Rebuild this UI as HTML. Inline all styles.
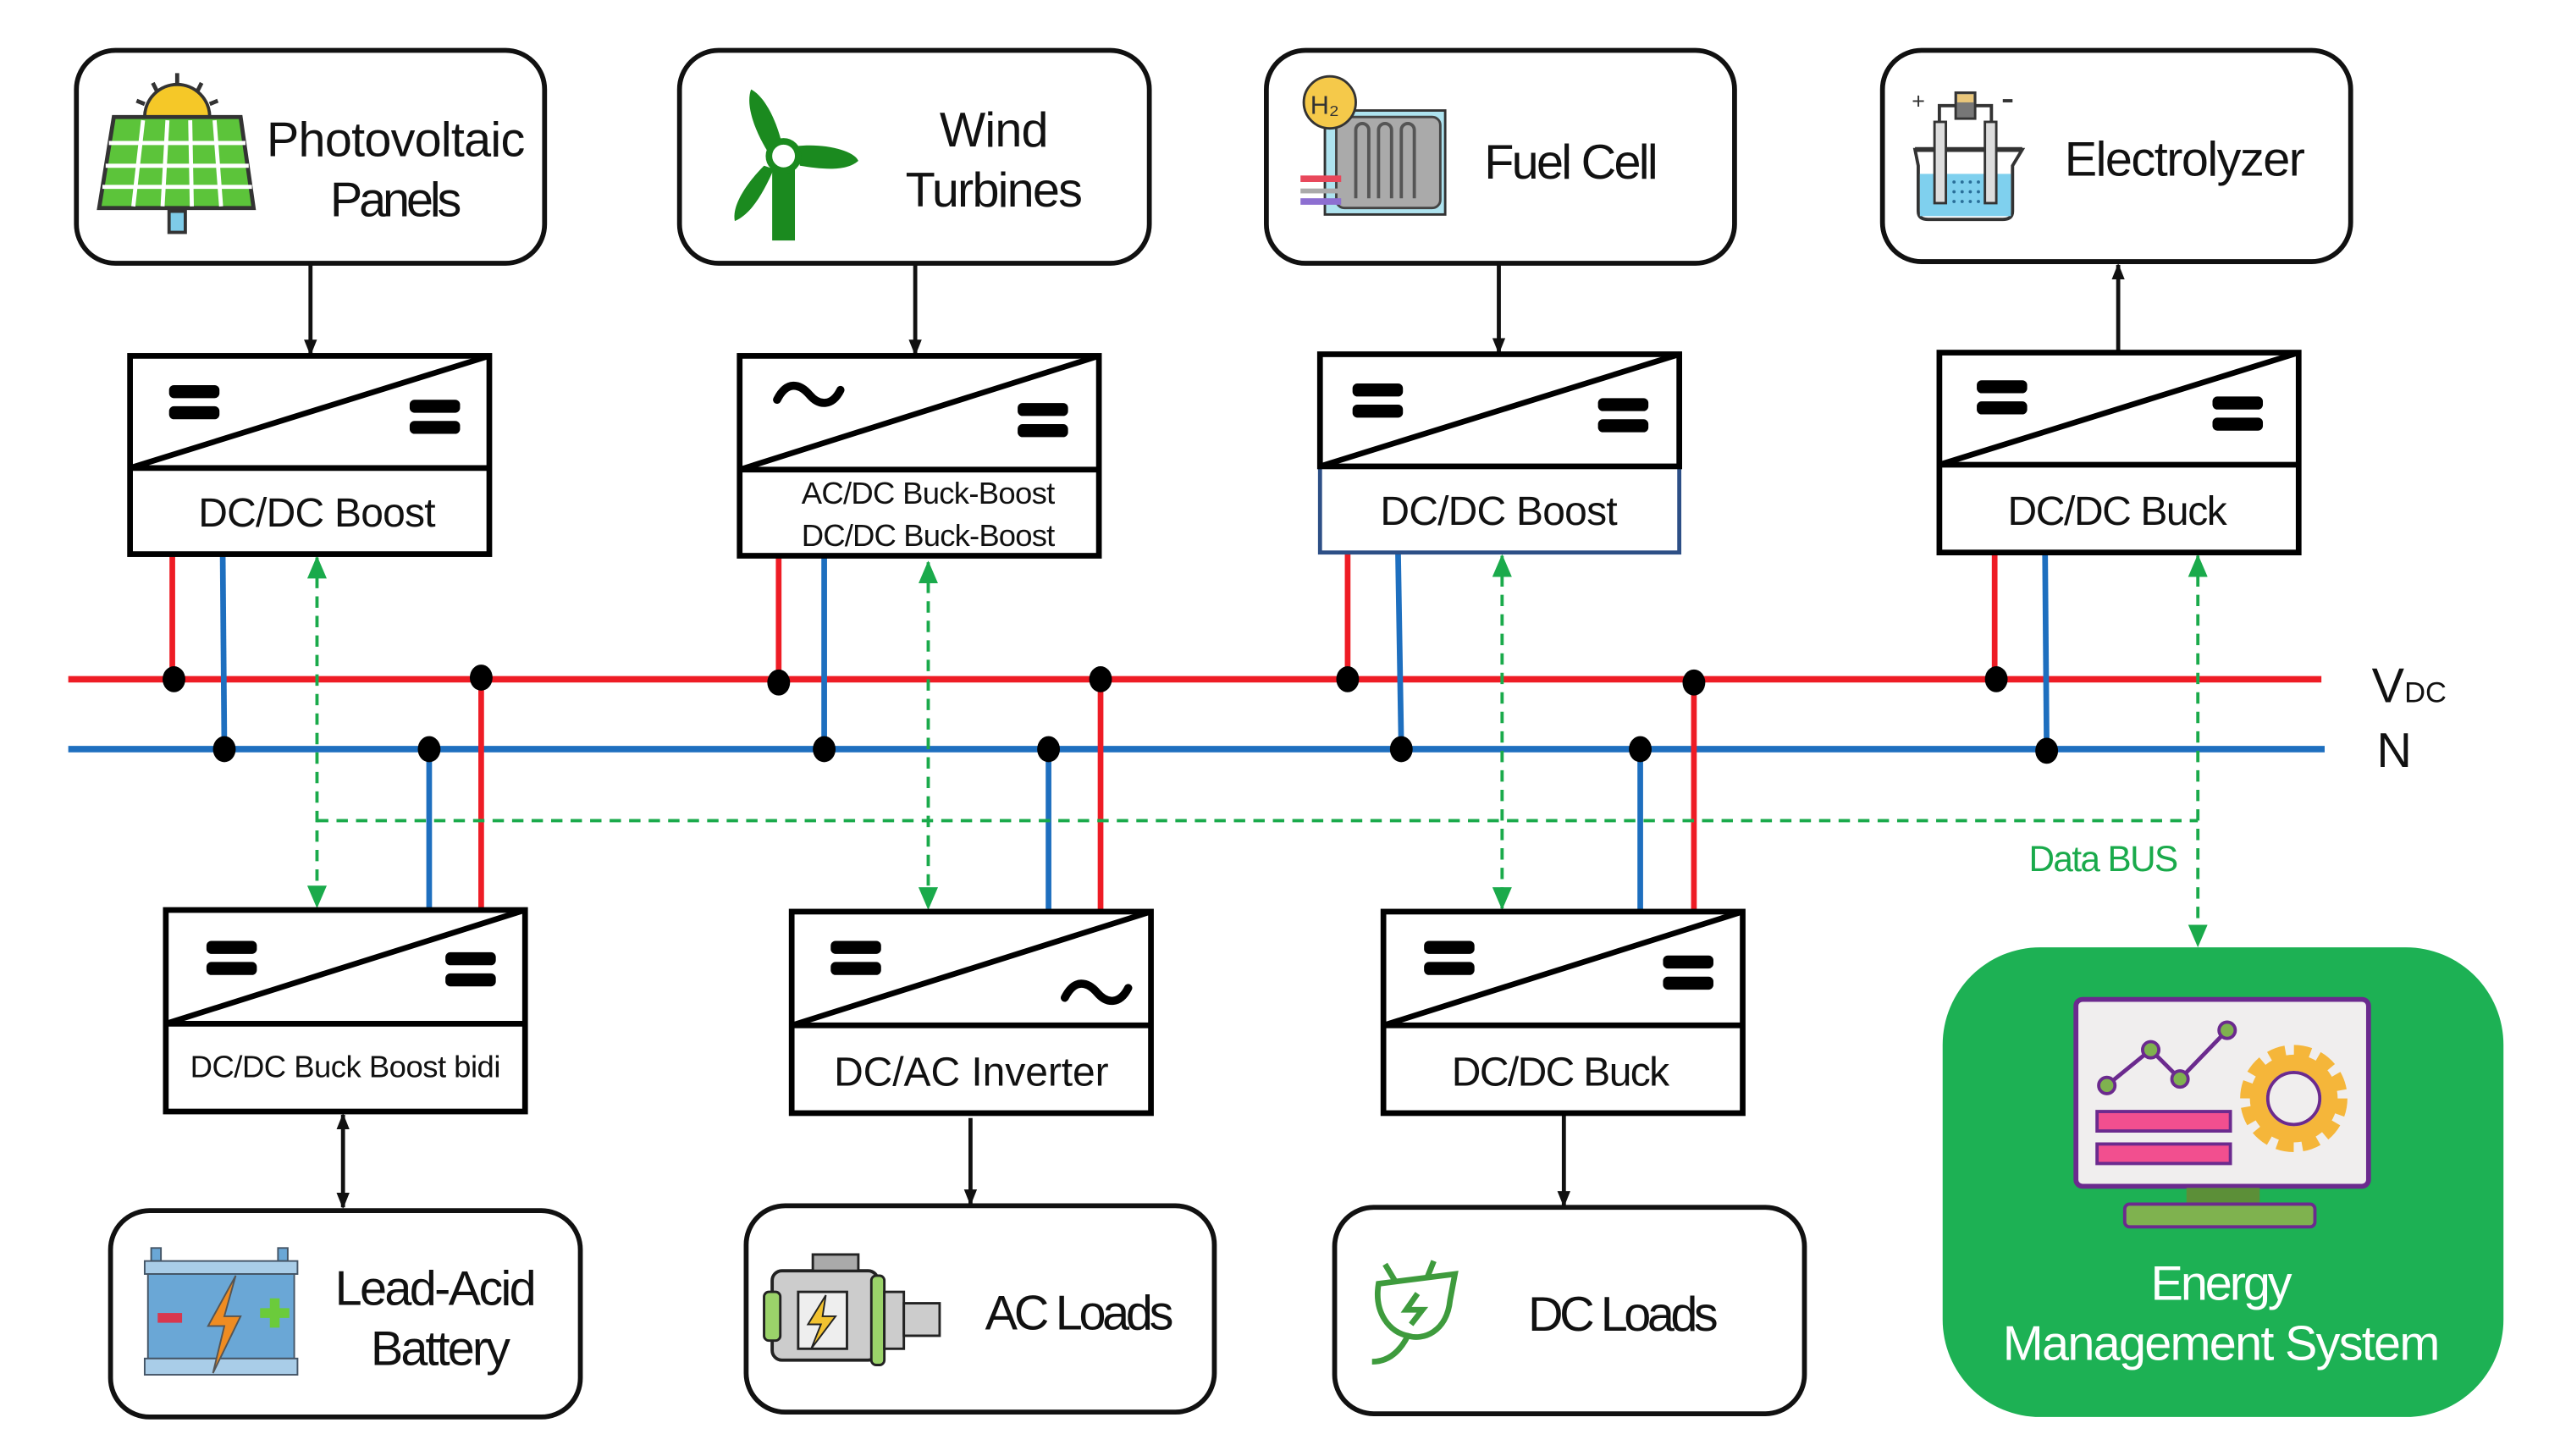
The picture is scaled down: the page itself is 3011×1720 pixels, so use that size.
<!DOCTYPE html>
<html><head><meta charset="utf-8"><style>
html,body{margin:0;padding:0;background:#fff;}
svg{display:block;}
text{font-family:"Liberation Sans Narrow","Liberation Sans",sans-serif;fill:#111;}
</style></head><body>
<svg width="3011" height="1720" viewBox="0 0 1568 896" preserveAspectRatio="none" xmlns="http://www.w3.org/2000/svg">
<defs>
<marker id="ab" markerWidth="10" markerHeight="10" refX="9" refY="5" orient="auto" markerUnits="userSpaceOnUse"><path d="M0,1 L10,5 L0,9 z" fill="#111"/></marker>
<marker id="ag" markerWidth="14" markerHeight="12" refX="13" refY="6" orient="auto" markerUnits="userSpaceOnUse"><path d="M0,0 L14,6 L0,12 z" fill="#1aaa4b"/></marker>
<marker id="agS" markerWidth="14" markerHeight="12" refX="1" refY="6" orient="auto" markerUnits="userSpaceOnUse"><path d="M14,0 L0,6 L14,12 z" fill="#1aaa4b"/></marker>
<marker id="abS" markerWidth="10" markerHeight="10" refX="1" refY="5" orient="auto" markerUnits="userSpaceOnUse"><path d="M10,1 L0,5 L10,9 z" fill="#111"/></marker>
</defs>

<g fill="#fff" stroke="#111" stroke-width="3">
<rect x="47" y="31" width="288" height="131" rx="24"/>
<rect x="418" y="31" width="289" height="131" rx="24"/>
<rect x="779" y="31" width="288" height="131" rx="24"/>
<rect x="1158" y="31" width="288" height="130" rx="24"/>
<rect x="68" y="745" width="289" height="127" rx="24"/>
<rect x="459" y="742" width="288" height="127" rx="24"/>
<rect x="821" y="743" width="289" height="127" rx="24"/>
</g>
<rect x="1195" y="583" width="345" height="289" rx="60" fill="#1db154"/>

<text x="164" y="96" font-size="30" textLength="159">Photovoltaic</text>
<text x="203" y="133" font-size="30" textLength="81">Panels</text>
<text x="578" y="90" font-size="30" textLength="67">Wind</text>
<text x="557" y="127" font-size="30" textLength="109">Turbines</text>
<text x="913" y="110" font-size="30" textLength="107">Fuel Cell</text>
<text x="1270" y="108" font-size="30" textLength="148">Electrolyzer</text>
<text x="206" y="803" font-size="30" textLength="124">Lead-Acid</text>
<text x="228" y="840" font-size="30" textLength="86">Battery</text>
<text x="606" y="818" font-size="30" textLength="116">AC Loads</text>
<text x="940" y="819" font-size="30" textLength="117">DC Loads</text>
<text x="1323" y="800" font-size="30" textLength="87" style="fill:#fff">Energy</text>
<text x="1232" y="837" font-size="30" textLength="269" style="fill:#fff">Management System</text>

<g>
<path d="M89,72 a20,20 0 0 1 40,0 z" fill="#f5c828" stroke="#333" stroke-width="2"/>
<g stroke="#333" stroke-width="2.5"><line x1="109" y1="45" x2="109" y2="52"/><line x1="94" y1="51" x2="97" y2="57"/><line x1="124" y1="51" x2="121" y2="57"/><line x1="84" y1="62" x2="89" y2="64"/><line x1="134" y1="62" x2="129" y2="64"/></g>
<path d="M70,72 L148,72 L156,128 L61,128 z" fill="#5cc43a" stroke="#333" stroke-width="2.5"/>
<g stroke="#fff" stroke-width="2.5"><line x1="67" y1="88" x2="151" y2="88"/><line x1="65" y1="102" x2="153" y2="102"/><line x1="63" y1="115" x2="155" y2="115"/><line x1="88" y1="74" x2="82" y2="127"/><line x1="103" y1="74" x2="100" y2="127"/><line x1="117" y1="74" x2="118" y2="127"/><line x1="132" y1="74" x2="136" y2="127"/></g>
<rect x="104" y="130" width="10" height="13" fill="#7ecbe8" stroke="#333" stroke-width="2"/>
</g>
<g fill="#1b8a1f">
<path d="M462,55 C472,60 480,80 482,94 L474,96 C466,84 458,66 462,55 z"/>
<path d="M490,90 C505,88 525,92 528,99 C520,106 505,104 492,102 z"/>
<path d="M476,104 C470,118 462,132 452,136 C450,126 460,112 470,102 z"/>
<rect x="475" y="104" width="14" height="44"/>
<circle cx="482" cy="96" r="9" fill="#fff" stroke="#1b8a1f" stroke-width="4"/>
</g>
<g>
<rect x="815" y="68" width="74" height="64" fill="#aee3ef" stroke="#333" stroke-width="1.5"/>
<rect x="822" y="72" width="64" height="56" rx="5" fill="#aaa" stroke="#444" stroke-width="1.5"/>
<path d="M834,122 v-42 a4,4 0 0 1 8,0 v42 M848,122 v-42 a4,4 0 0 1 8,0 v42 M862,122 v-42 a4,4 0 0 1 8,0 v42" fill="none" stroke="#555" stroke-width="2"/>
<rect x="800" y="108" width="25" height="4" fill="#e8485b"/>
<rect x="800" y="116" width="25" height="3" fill="#aaa"/>
<rect x="800" y="122" width="25" height="4" fill="#8d6fd1"/>
<circle cx="818" cy="63" r="16" fill="#f5c94a" stroke="#333" stroke-width="1.5"/>
<text x="806" y="70" font-size="16" style="fill:#333">H₂</text>
</g>
<g>
<path d="M1178,92 L1244,92 L1238,102 L1238,130 Q1238,135 1232,135 L1186,135 Q1180,135 1180,130 L1180,102 z" fill="#fff" stroke="#333" stroke-width="2"/>
<rect x="1181" y="107" width="56" height="26" fill="#7fd0ee"/>
<line x1="1178" y1="92" x2="1244" y2="92" stroke="#333" stroke-width="3"/>
<rect x="1190" y="75" width="7" height="50" fill="#ddd" stroke="#333" stroke-width="1.5"/>
<rect x="1221" y="75" width="7" height="50" fill="#ddd" stroke="#333" stroke-width="1.5"/>
<path d="M1193,75 v-10 h32 v10" fill="none" stroke="#333" stroke-width="2"/>
<rect x="1203" y="57" width="12" height="16" fill="#777" stroke="#333" stroke-width="1.5"/>
<rect x="1204" y="58" width="10" height="5" fill="#e9c67a"/>
<text x="1176" y="67" font-size="14" style="fill:#333">+</text>
<rect x="1232" y="61" width="6" height="2" fill="#333"/>
<g fill="#2a6f99"><circle cx="1202" cy="112" r="1"/><circle cx="1207" cy="112" r="1"/><circle cx="1212" cy="112" r="1"/><circle cx="1217" cy="112" r="1"/><circle cx="1202" cy="118" r="1"/><circle cx="1207" cy="118" r="1"/><circle cx="1212" cy="118" r="1"/><circle cx="1217" cy="118" r="1"/><circle cx="1202" cy="124" r="1"/><circle cx="1207" cy="124" r="1"/><circle cx="1212" cy="124" r="1"/><circle cx="1217" cy="124" r="1"/></g>
</g>
<g>
<rect x="93" y="768" width="6" height="8" fill="#6aa7d6" stroke="#456" stroke-width="1"/>
<rect x="171" y="768" width="6" height="8" fill="#6aa7d6" stroke="#456" stroke-width="1"/>
<rect x="89" y="776" width="94" height="8" fill="#a9cde8" stroke="#456" stroke-width="1"/>
<rect x="91" y="784" width="90" height="52" fill="#6aa7d6" stroke="#456" stroke-width="1"/>
<rect x="89" y="836" width="94" height="10" fill="#a9cde8" stroke="#456" stroke-width="1"/>
<rect x="97" y="808" width="15" height="6" fill="#d8374e"/>
<path d="M145,785 L128,816 L138,816 L131,845 L148,810 L138,810 z" fill="#ef8c22" stroke="#555" stroke-width="1"/>
<path d="M160,805 h6 v-6 h6 v6 h6 v6 h-6 v6 h-6 v-6 h-6 z" fill="#6bcb3b"/>
</g>
<g>
<rect x="475" y="782" width="65" height="55" rx="6" fill="#ccc" stroke="#222" stroke-width="2"/>
<rect x="470" y="795" width="10" height="30" rx="3" fill="#9bd36a" stroke="#222" stroke-width="1.5"/>
<rect x="536" y="785" width="8" height="55" rx="3" fill="#9bd36a" stroke="#222" stroke-width="1.5"/>
<rect x="544" y="795" width="12" height="35" fill="#ccc" stroke="#222" stroke-width="1.5"/>
<rect x="556" y="802" width="22" height="20" fill="#ccc" stroke="#222" stroke-width="1.5"/>
<rect x="491" y="795" width="30" height="35" fill="#eee" stroke="#222" stroke-width="1.5"/>
<path d="M508,797 L497,815 L505,815 L499,830 L514,810 L506,810 z" fill="#f2c230" stroke="#222" stroke-width="1"/>
<rect x="500" y="772" width="28" height="10" fill="#aaa" stroke="#222" stroke-width="1.5"/>
</g>
<g fill="none" stroke="#3e9b3d" stroke-width="3.5">
<path d="M858,788 L852,778 M878,786 L882,776"/>
<path d="M848,790 L895,784 L892,800 C890,820 875,825 866,822 C855,820 845,808 848,790 z"/>
<path d="M866,822 C860,834 852,838 844,838"/>
<path d="M872,796 L865,806 L875,806 L868,815"/>
</g>
<g>
<rect x="1277" y="615" width="180" height="115" rx="4" fill="#f0eeee" stroke="#6b2a8e" stroke-width="3"/>
<rect x="1345" y="731" width="45" height="10" fill="#5c8f38"/>
<rect x="1307" y="741" width="117" height="14" rx="3" fill="#7fb24f" stroke="#6b2a8e" stroke-width="2"/>
<polyline points="1296,668 1323,646 1341,664 1370,634" fill="none" stroke="#6b2a8e" stroke-width="2.5"/>
<g fill="#7fb24f" stroke="#6b2a8e" stroke-width="2"><circle cx="1296" cy="668" r="5"/><circle cx="1323" cy="646" r="5"/><circle cx="1341" cy="664" r="5"/><circle cx="1370" cy="634" r="5"/></g>
<rect x="1290" y="684" width="82" height="12" fill="#f24f8f" stroke="#6b2a8e" stroke-width="2"/>
<rect x="1290" y="704" width="82" height="12" fill="#f24f8f" stroke="#6b2a8e" stroke-width="2"/>
<circle cx="1411" cy="676" r="26" fill="none" stroke="#f5b63a" stroke-width="14" stroke-dasharray="9 4.6"/>
<circle cx="1411" cy="676" r="22" fill="none" stroke="#f5b63a" stroke-width="10"/>
<circle cx="1411" cy="676" r="16" fill="#f0eeee" stroke="#6b2a8e" stroke-width="2"/>
</g>

<line x1="42" y1="418" x2="1428" y2="418" stroke="#ee1c25" stroke-width="4"/>
<line x1="42" y1="461" x2="1430" y2="461" stroke="#1e6fbf" stroke-width="4"/>
<text x="1459" y="432" font-size="30">V</text><text x="1479" y="432" font-size="18">DC</text>
<text x="1462" y="472" font-size="30">N</text>

<g stroke-width="3.5">
<g stroke="#ee1c25"><line x1="106" y1="341" x2="106" y2="418"/><line x1="479" y1="342" x2="479" y2="420"/><line x1="829" y1="340" x2="829" y2="418"/><line x1="1227" y1="340" x2="1227" y2="418"/>
<line x1="296" y1="418" x2="296" y2="560"/><line x1="677" y1="418" x2="677" y2="561"/><line x1="1042" y1="420" x2="1042" y2="561"/></g>
<g stroke="#1e6fbf"><line x1="137" y1="341" x2="138" y2="461"/><line x1="507" y1="342" x2="507" y2="461"/><line x1="860" y1="340" x2="862" y2="461"/><line x1="1258" y1="340" x2="1259" y2="461"/>
<line x1="264" y1="461" x2="264" y2="560"/><line x1="645" y1="461" x2="645" y2="561"/><line x1="1009" y1="461" x2="1009" y2="561"/></g>
</g>
<g fill="#000">
<ellipse cx="107" cy="418" rx="7" ry="8"/><ellipse cx="296" cy="417" rx="7" ry="8"/><ellipse cx="479" cy="420" rx="7" ry="8"/><ellipse cx="677" cy="418" rx="7" ry="8"/><ellipse cx="829" cy="418" rx="7" ry="8"/><ellipse cx="1042" cy="420" rx="7" ry="8"/><ellipse cx="1228" cy="418" rx="7" ry="8"/>
<ellipse cx="138" cy="461" rx="7" ry="8"/><ellipse cx="264" cy="461" rx="7" ry="8"/><ellipse cx="507" cy="461" rx="7" ry="8"/><ellipse cx="645" cy="461" rx="7" ry="8"/><ellipse cx="862" cy="461" rx="7" ry="8"/><ellipse cx="1009" cy="461" rx="7" ry="8"/><ellipse cx="1259" cy="462" rx="7" ry="8"/>
</g>

<g stroke="#1aaa4b" stroke-width="2" stroke-dasharray="7 5" fill="none">
<line x1="195" y1="505" x2="1352" y2="505"/>
<line x1="195" y1="343" x2="195" y2="558" marker-start="url(#agS)" marker-end="url(#ag)"/>
<line x1="571" y1="346" x2="571" y2="559" marker-start="url(#agS)" marker-end="url(#ag)"/>
<line x1="924" y1="342" x2="924" y2="559" marker-start="url(#agS)" marker-end="url(#ag)"/>
<line x1="1352" y1="342" x2="1352" y2="582" marker-start="url(#agS)" marker-end="url(#ag)"/>
</g>
<text x="1248" y="536" font-size="22" textLength="92" style="fill:#1aaa4b">Data BUS</text>

<g stroke="#111" stroke-width="2.5">
<line x1="191" y1="162" x2="191" y2="218" marker-end="url(#ab)"/>
<line x1="563" y1="162" x2="563" y2="218" marker-end="url(#ab)"/>
<line x1="922" y1="162" x2="922" y2="217" marker-end="url(#ab)"/>
<line x1="1303" y1="217" x2="1303" y2="163" marker-end="url(#ab)"/>
<line x1="211" y1="686" x2="211" y2="743" marker-start="url(#abS)" marker-end="url(#ab)"/>
<line x1="597" y1="688" x2="597" y2="741" marker-end="url(#ab)"/>
<line x1="962" y1="686" x2="962" y2="742" marker-end="url(#ab)"/>
</g>

<g fill="#fff" stroke="#000" stroke-width="3.5">
<rect x="80" y="219" width="221" height="122"/><line x1="80" y1="288" x2="301" y2="288"/><line x1="80" y1="288" x2="301" y2="219"/>
<rect x="455" y="219" width="221" height="123"/><line x1="455" y1="289" x2="676" y2="289"/><line x1="455" y1="289" x2="676" y2="219"/>
<rect x="812" y="218" width="221" height="122" stroke="#2d4f86" stroke-width="2.5"/><rect x="812" y="218" width="221" height="69"/><line x1="812" y1="287" x2="1033" y2="218"/>
<rect x="1193" y="217" width="221" height="123"/><line x1="1193" y1="286" x2="1414" y2="286"/><line x1="1193" y1="286" x2="1414" y2="217"/>
<rect x="102" y="560" width="221" height="124"/><line x1="102" y1="630" x2="323" y2="630"/><line x1="102" y1="630" x2="323" y2="560"/>
<rect x="487" y="561" width="221" height="124"/><line x1="487" y1="631" x2="708" y2="631"/><line x1="487" y1="631" x2="708" y2="561"/>
<rect x="851" y="561" width="221" height="124"/><line x1="851" y1="631" x2="1072" y2="631"/><line x1="851" y1="631" x2="1072" y2="561"/>
</g>
<g fill="#000">
<rect x="104" y="237" width="31" height="8" rx="3"/><rect x="104" y="250" width="31" height="8" rx="3"/>
<rect x="252" y="246" width="31" height="8" rx="3"/><rect x="252" y="259" width="31" height="8" rx="3"/>
<rect x="626" y="248" width="31" height="8" rx="3"/><rect x="626" y="261" width="31" height="8" rx="3"/>
<rect x="832" y="236" width="31" height="8" rx="3"/><rect x="832" y="249" width="31" height="8" rx="3"/>
<rect x="983" y="245" width="31" height="8" rx="3"/><rect x="983" y="258" width="31" height="8" rx="3"/>
<rect x="1216" y="234" width="31" height="8" rx="3"/><rect x="1216" y="247" width="31" height="8" rx="3"/>
<rect x="1361" y="244" width="31" height="8" rx="3"/><rect x="1361" y="257" width="31" height="8" rx="3"/>
<rect x="127" y="579" width="31" height="8" rx="3"/><rect x="127" y="592" width="31" height="8" rx="3"/>
<rect x="274" y="586" width="31" height="8" rx="3"/><rect x="274" y="599" width="31" height="8" rx="3"/>
<rect x="511" y="579" width="31" height="8" rx="3"/><rect x="511" y="592" width="31" height="8" rx="3"/>
<rect x="876" y="579" width="31" height="8" rx="3"/><rect x="876" y="592" width="31" height="8" rx="3"/>
<rect x="1023" y="588" width="31" height="8" rx="3"/><rect x="1023" y="601" width="31" height="8" rx="3"/>
</g>
<g fill="none" stroke="#000" stroke-width="5" stroke-linecap="round">
<path d="M478,246 C484,234 492,236 498,243 C504,250 512,250 517,240"/>
<path d="M655,614 C661,602 669,604 675,611 C681,618 689,618 694,608"/>
</g>

<text x="122" y="324" font-size="25" textLength="146">DC/DC Boost</text>
<text x="493" y="310" font-size="19" textLength="156">AC/DC Buck-Boost</text>
<text x="493" y="336" font-size="19" textLength="156">DC/DC Buck-Boost</text>
<text x="849" y="323" font-size="25" textLength="146">DC/DC Boost</text>
<text x="1235" y="323" font-size="25" textLength="135">DC/DC Buck</text>
<text x="117" y="663" font-size="19" textLength="191">DC/DC Buck Boost bidi</text>
<text x="513" y="668" font-size="25" textLength="169">DC/AC Inverter</text>
<text x="893" y="668" font-size="25" textLength="134">DC/DC Buck</text>
</svg>
</body></html>
